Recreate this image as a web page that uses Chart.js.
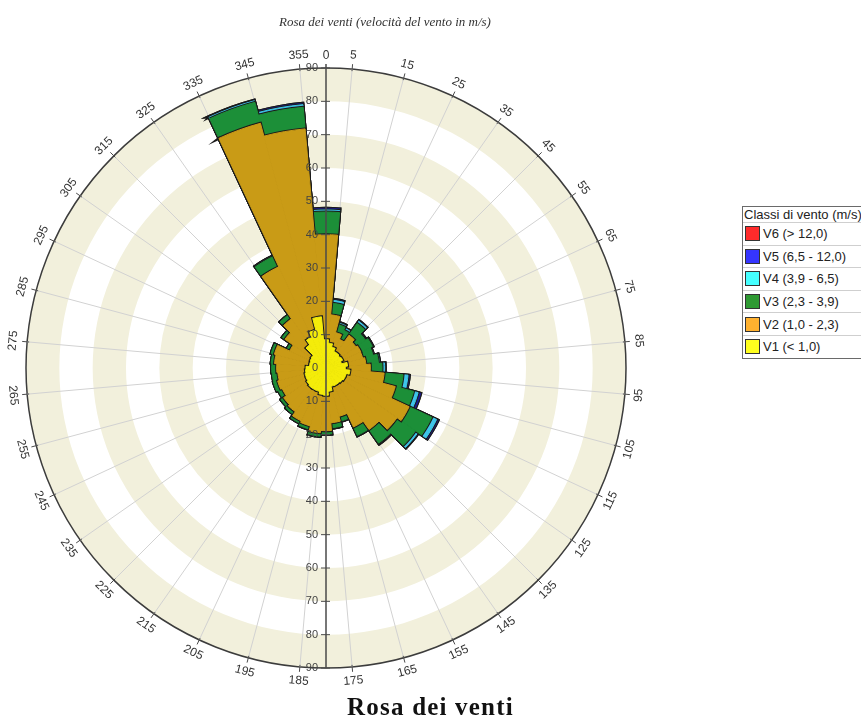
<!DOCTYPE html>
<html lang="it">
<head>
<meta charset="utf-8">
<title>Rosa dei venti</title>
<script src="https://cdn.jsdelivr.net/npm/chart.js@4.4.1/dist/chart.umd.min.js"></script>
<style>
  html, body { margin: 0; padding: 0; background: #fff; overflow: hidden; }
  #wrap { position: relative; width: 861px; height: 717px; overflow: hidden; }
  #rose { position: absolute; left: 0; top: 0; }
  .title { position: absolute; left: 0; top: 15px; width: 770px; text-align: center;
           font: italic 13px/13px "Liberation Serif", "Times New Roman", serif; color: #333; }
  .caption { position: absolute; left: 0; top: 694px; width: 861px; text-align: center; letter-spacing: 1.2px;
             font: bold 25px/25px "Liberation Serif", "Times New Roman", serif; color: #111; }
  #legend { position: absolute; left: 742px; top: 206px; width: 140px; border: 1px solid #6a6a6a;
            background: #fff; font: 13px "Liberation Sans", Arial, sans-serif; color: #222; }
  #legend .head { height: 15px; line-height: 15px; padding-left: 1px; white-space: nowrap; }
  #legend .row { height: 21.6px; border-top: 1px solid #cfcfcf; display: flex; align-items: center; white-space: nowrap; }
  #legend .box { width: 13px; height: 13px; border: 1px solid #333; margin: 0 3px 0 2px; }
</style>
</head>
<body>
<div id="wrap">
  <canvas id="rose" width="861" height="717"></canvas>
  <div class="title">Rosa dei venti (velocità del vento in m/s)</div>
  <div id="legend"><div class="head">Classi di vento (m/s)</div></div>
  <div class="caption">Rosa dei venti</div>
</div>
<script>
// settori da 10 gradi, centrati su 0, 10, ... 350
const directions = ['0','10','20','30','40','50','60','70','80','90','100','110',
  '120','130','140','150','160','170','180','190','200','210','220','230',
  '240','250','260','270','280','290','300','310','320','330','340','350'];
// etichette ai bordi dei settori
const angleTicks = ['355','5','15','25','35','45','55','65','75','85','95','105',
  '115','125','135','145','155','165','175','185','195','205','215','225',
  '235','245','255','265','275','285','295','305','315','325','335','345'];
const radialTicks = [10, 20, 30, 40, 50, 60, 70, 80, 90];

const classNames = ['V1 (< 1,0)', 'V2 (1,0 - 2,3)', 'V3 (2,3 - 3,9)', 'V4 (3,9 - 6,5)', 'V5 (6,5 - 12,0)', 'V6 (> 12,0)'];
const fillColors = ['#f4ec0a', '#c99b16', '#1c8f38', '#3ec5ea', '#1c1c96', '#e02020'];
const legendColors = ['#ffff1e', '#ffb12f', '#2f9a33', '#45ffff', '#3535ff', '#ff2b2b'];

const v1 = [8.5, 7.5, 6.5, 5.5, 5.5, 5.2, 5.5, 4.8, 6.5, 5.8, 7.2, 6.3,
  6.3, 6.0, 5.8, 5.8, 5.7, 7.0, 8.2, 8.0, 7.3, 7.3, 7.3, 7.0,
  6.6, 6.5, 6.2, 6.0, 5.0, 5.0, 5.2, 5.4, 8.5, 10.2, 11.8, 15.4];
const v2 = [31.5, 8.5, 4.5, 4.0, 6.5, 5.8, 6.0, 6.6, 5.5, 7.5, 10.3, 15.2,
  21.2, 20.0, 16.7, 13.7, 9.3, 9.5, 10.6, 11.5, 10.7, 10.2, 8.7, 8.5,
  7.9, 8.5, 8.3, 8.8, 10.5, 11.0, 6.8, 9.6, 9.5, 23.3, 64.2, 56.6];
const v3 = [6.8, 3.5, 2.5, 3.0, 4.3, 3.5, 3.8, 3.2, 3.8, 3.5, 5.7, 5.7,
  7.5, 6.8, 5.0, 2.8, 1.5, 1.5, 1.0, 1.0, 1.0, 0.8, 1.0, 1.0,
  1.3, 1.3, 1.7, 1.5, 1.0, 1.0, 1.0, 1.0, 1.5, 3.5, 6.5, 6.5];
const v4 = [0.6, 0.9, 0.5, 0.7, 0.8, 0.2, 0.2, 0.2, 0.3, 0.8, 1.5, 1.4,
  1.6, 0.9, 0.2, 0.1, 0.1, 0.1, 0.1, 0.1, 0.1, 0, 0, 0,
  0, 0, 0, 0, 0, 0, 0, 0, 0, 0.2, 0.5, 0.8];
const v5 = [0.5, 0.3, 0.2, 0.1, 0.2, 0.1, 0, 0, 0.1, 0.2, 0.4, 0.8,
  0.5, 0.2, 0.1, 0, 0, 0, 0, 0, 0, 0, 0, 0,
  0, 0, 0, 0, 0, 0, 0, 0, 0, 0, 0.2, 0.4];
const v6 = [0, 0, 0, 0, 0, 0, 0, 0, 0, 0, 0, 0,
  0, 0, 0, 0, 0, 0, 0, 0, 0, 0, 0, 0,
  0, 0, 0, 0, 0, 0, 0, 0, 0, 0, 0, 0];

const bandColor = '#f2f0dc';

// valori cumulati: ogni classe si disegna sopra la precedente
const series = [v1, v2, v3, v4, v5, v6];
let running = directions.map(() => 0);
const cumulative = series.map(s => (running = running.map((r, i) => +(r + s[i]).toFixed(2))));

const datasets = [];
cumulative.forEach((data, k) => {
  datasets.push({ label: classNames[k], data, backgroundColor: fillColors[k], borderColor: fillColors[k],
                  borderWidth: 1, borderJoinStyle: 'miter', order: 2 * k + 1 });
  datasets.push({ label: classNames[k] + ' contorno', data, backgroundColor: 'rgba(0,0,0,0)', borderColor: '#1b1b1b',
                  borderWidth: 3, borderJoinStyle: 'miter', order: 2 * k + 2 });
});

const roseFrame = {
  id: 'roseFrame',
  beforeDraw(chart) {
    const r = chart.scales.r, ctx = chart.ctx;
    ctx.save();
    ctx.fillStyle = bandColor;
    for (let v = 0; v < 90; v += 20) {
      ctx.beginPath();
      ctx.arc(r.xCenter, r.yCenter, r.getDistanceFromCenterForValue(v + 10), 0, 2 * Math.PI);
      if (v > 0) ctx.arc(r.xCenter, r.yCenter, r.getDistanceFromCenterForValue(v), 0, 2 * Math.PI, true);
      ctx.fill();
    }
    ctx.restore();
  },
  afterDraw(chart) {
    const r = chart.scales.r, ctx = chart.ctx;
    const xc = r.xCenter, yc = r.yCenter, R = r.drawingArea;
    ctx.save();
    ctx.strokeStyle = '#4a4a4a';
    ctx.lineWidth = 1.5;
    ctx.beginPath(); ctx.moveTo(xc, yc - R - 4); ctx.lineTo(xc, yc + R); ctx.stroke();

    ctx.lineWidth = 1;
    ctx.font = '11px "Liberation Sans", Arial, sans-serif';
    ctx.fillStyle = '#444';
    ctx.textAlign = 'right';
    ctx.textBaseline = 'middle';
    radialTicks.forEach(v => {
      const d = r.getDistanceFromCenterForValue(v);
      [-1, 1].forEach(s => {
        const y = yc + s * d;
        ctx.beginPath(); ctx.moveTo(xc - 5, y); ctx.lineTo(xc + 4, y); ctx.stroke();
        ctx.fillText(String(v), xc - 8, y);
      });
    });
    ctx.fillText('0', xc - 8, yc);

    ctx.font = '12px "Liberation Sans", Arial, sans-serif';
    ctx.fillStyle = '#333';
    ctx.textAlign = 'center';
    angleTicks.forEach((label, i) => {
      const a = r.getPointPosition(i, R - 2), b = r.getPointPosition(i, R + 5);
      ctx.beginPath(); ctx.moveTo(a.x, a.y); ctx.lineTo(b.x, b.y); ctx.stroke();
      const p = r.getPointPosition(i, R + 14);
      const deg = Number(label);
      const rot = deg > 90 && deg < 270 ? deg - 180 : deg;
      ctx.save();
      ctx.translate(p.x, p.y);
      ctx.rotate(rot * Math.PI / 180);
      ctx.fillText(label, 0, 0);
      ctx.restore();
    });
    ctx.fillText('0', xc, yc - R - 12);
    ctx.restore();
  }
};

new Chart(document.getElementById('rose'), {
  type: 'polarArea',
  data: { labels: directions, datasets },
  options: {
    responsive: false,
    animation: false,
    events: [],
    layout: { padding: { left: 26, right: 235, top: 68, bottom: 49 } },
    plugins: { legend: { display: false }, tooltip: { enabled: false } },
    scales: {
      r: {
        min: 0, max: 90, startAngle: -5,
        ticks: { display: false, stepSize: 10 },
        grid: {
          circular: true,
          color: c => (c.tick && c.tick.value === 90 ? '#3c3c3c' : 'rgba(0,0,0,0)'),
          lineWidth: c => (c.tick && c.tick.value === 90 ? 1.5 : 1)
        },
        angleLines: { display: true, color: '#d2d2d2', lineWidth: 1 },
        pointLabels: { display: false }
      }
    }
  },
  plugins: [roseFrame]
});

// legenda: dalla classe più forte alla più debole
const legend = document.getElementById('legend');
for (let k = classNames.length - 1; k >= 0; k--) {
  const row = document.createElement('div');
  row.className = 'row';
  row.innerHTML = `<span class="box" style="background:${legendColors[k]}"></span><span>${classNames[k]}</span>`;
  legend.appendChild(row);
}
</script>
</body>
</html>
